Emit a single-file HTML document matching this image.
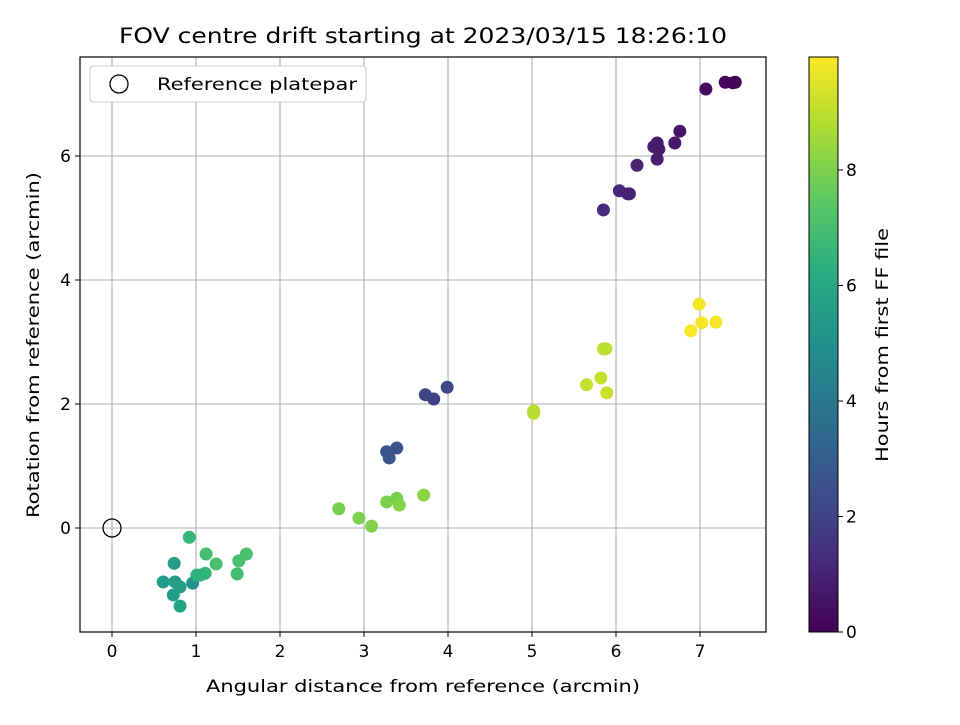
<!DOCTYPE html>
<html><head><meta charset="utf-8"><style>
body{margin:0;background:#fff;font-family:"Liberation Sans","DejaVu Sans",sans-serif}
svg text{font-family:"DejaVu Sans","Liberation Sans",sans-serif}
</style></head><body>
<svg id="chart" width="960" height="720" viewBox="0 0 960 720" xmlns="http://www.w3.org/2000/svg">
<rect width="960" height="720" fill="#fff"/>
<text x="119" y="43" font-size="21" textLength="608" lengthAdjust="spacingAndGlyphs">FOV centre drift starting at 2023/03/15 18:26:10</text>
<g id="grid"></g>
<g id="points"></g>
<rect x="80" y="57" width="686" height="575" fill="none" stroke="#000" stroke-width="1.2"/>
<g id="xticks"></g>
<g id="yticks"></g>
<text x="206" y="692" font-size="17" textLength="434" lengthAdjust="spacingAndGlyphs">Angular distance from reference (arcmin)</text>
<text transform="translate(39,518) rotate(-90)" font-size="17" textLength="346" lengthAdjust="spacingAndGlyphs">Rotation from reference (arcmin)</text>
<g>
<rect x="90" y="66" width="276" height="36" rx="3" fill="#fff" stroke="#ccc"/>
<circle cx="119" cy="84" r="9" fill="none" stroke="#000" stroke-width="1.3"/>
<text x="157" y="90" font-size="17" textLength="200" lengthAdjust="spacingAndGlyphs">Reference platepar</text>
</g>
<defs><linearGradient id="vir" x1="0" y1="1" x2="0" y2="0"></linearGradient></defs>
<rect x="809" y="57" width="29" height="575" fill="url(#vir)" stroke="#000" stroke-width="1"/>
<g id="cticks"></g>
<text transform="translate(888,462) rotate(-90)" font-size="17" textLength="234" lengthAdjust="spacingAndGlyphs">Hours from first FF file</text>
</svg>
<script>
const xs=[7.07,7.30,7.39,7.42,5.85,6.04,6.14,6.16,6.25,6.45,6.49,6.51,6.49,6.70,6.76,3.73,3.83,3.99,3.27,3.30,3.39,0.92,1.12,1.24,1.60,1.51,1.49,0.74,0.61,0.75,0.81,0.73,0.81,0.96,1.01,1.11,1.05,2.70,2.94,3.09,3.27,3.39,3.42,3.71,5.02,5.02,5.65,5.82,5.85,5.88,5.89,6.89,6.99,7.02,7.19];
const ys=[7.08,7.19,7.18,7.19,5.13,5.44,5.39,5.39,5.85,6.15,6.21,6.11,5.95,6.21,6.40,2.15,2.08,2.27,1.23,1.13,1.29,-0.15,-0.42,-0.58,-0.42,-0.53,-0.74,-0.57,-0.87,-0.87,-0.95,-1.08,-1.26,-0.89,-0.76,-0.73,-0.76,0.31,0.16,0.03,0.42,0.48,0.37,0.53,1.89,1.85,2.31,2.42,2.89,2.89,2.18,3.18,3.61,3.31,3.32];
const hours=[0.3,0.15,0.1,0.05,1.2,1.1,1.05,1.0,0.95,0.85,0.8,0.75,0.9,0.7,0.65,2.1,2.0,2.2,2.6,2.7,2.5,6.6,6.9,7.0,7.1,7.0,6.9,5.5,5.4,5.5,5.6,5.5,5.8,5.1,6.3,6.6,6.4,7.9,8.0,8.1,8.0,7.9,8.1,8.2,8.9,8.9,9.1,9.1,9.0,9.0,9.2,9.9,9.8,9.85,9.9];
const xTicks=[0,1,2,3,4,5,6,7];
const yTicks=[0,2,4,6];
const cTicks=[0,2,4,6,8];
const X=v=>112+v*84, Y=v=>528-v*62, C=v=>632-v*57.75;
const vstops=[[0,[68,1,84]],[.125,[71,44,122]],[.25,[59,81,139]],[.375,[44,113,142]],[.5,[33,144,141]],[.625,[39,173,129]],[.75,[92,200,99]],[.875,[170,220,50]],[1,[253,231,37]]];
function vir(t){t=Math.max(0,Math.min(1,t));for(let i=1;i<vstops.length;i++){if(t<=vstops[i][0]){const [a,ca]=vstops[i-1],[b,cb]=vstops[i];const f=(t-a)/(b-a);return 'rgb('+ca.map((c,k)=>Math.round(c+(cb[k]-c)*f)).join(',')+')';}}return 'rgb(253,231,37)';}
const NS='http://www.w3.org/2000/svg';
function mk(tag,attrs,parent){const e=document.createElementNS(NS,tag);for(const k in attrs)e.setAttribute(k,attrs[k]);parent.appendChild(e);return e;}
const grid=document.getElementById('grid'),xt=document.getElementById('xticks'),yt=document.getElementById('yticks'),ct=document.getElementById('cticks'),pts=document.getElementById('points');
xTicks.forEach(v=>{const g=mk('line',{x1:X(v),x2:X(v),y1:57,y2:632,stroke:'#b0b0b0','stroke-width':1.1},grid);

const t=mk('line',{x1:X(v),x2:X(v),y1:632,y2:637,stroke:'#000'},xt);

const l=mk('text',{x:X(v),y:657,'font-size':17,'text-anchor':'middle'},xt);l.textContent=v;
});
yTicks.forEach(v=>{const g=mk('line',{x1:80,x2:766,y1:Y(v),y2:Y(v),stroke:'#b0b0b0','stroke-width':1.1},grid);

const t=mk('line',{x1:75,x2:80,y1:Y(v),y2:Y(v),stroke:'#000'},yt);

const l=mk('text',{x:71,y:Y(v)+6,'font-size':17,'text-anchor':'end'},yt);l.textContent=v;
});
const ref=mk('circle',{cx:X(0),cy:Y(0),r:9,fill:'none',stroke:'#000','stroke-width':1.3},pts);

xs.forEach((v,i)=>{const c=mk('circle',{cx:X(v),cy:Y(ys[i]),r:6.5,fill:vir(hours[i]/9.96)},pts);
});
const grad=document.getElementById('vir');
vstops.forEach(s=>mk('stop',{offset:s[0],'stop-color':'rgb('+s[1].join(',')+')'},grad));
cTicks.forEach(v=>{const t=mk('line',{x1:838,x2:843,y1:C(v),y2:C(v),stroke:'#000'},ct);

const l=mk('text',{x:846,y:C(v)+6,'font-size':17},ct);l.textContent=v;
});
</script>
</body></html>
